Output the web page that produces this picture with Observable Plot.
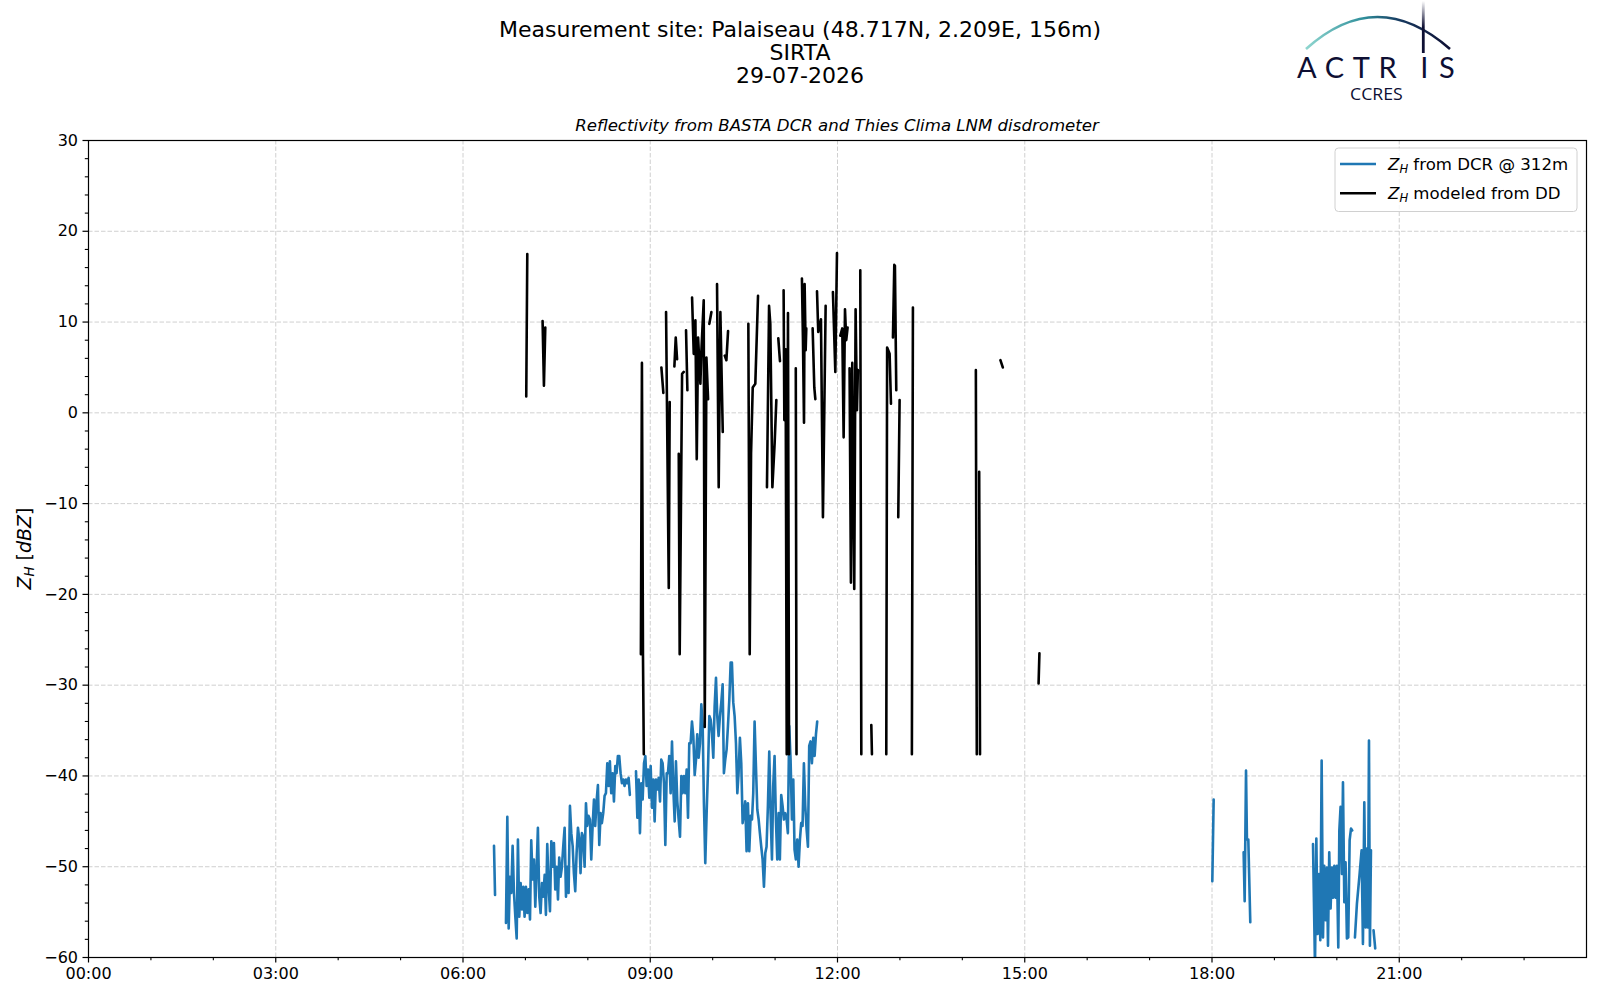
<!DOCTYPE html>
<html>
<head>
<meta charset="utf-8">
<script src="https://cdn.jsdelivr.net/npm/d3@7"></script>
<script src="https://cdn.jsdelivr.net/npm/@observablehq/plot@0.6"></script>
<style>
html,body{margin:0;padding:0;background:#fff;overflow:hidden}
#page{position:relative;width:1600px;height:1000px;font-family:"DejaVu Sans",sans-serif;color:#000}
#header{position:relative;height:136px}
.title{position:absolute;left:0;width:1600px;top:17.5px;text-align:center;font-size:22px;line-height:23px}
.subtitle{position:absolute;left:88px;width:1498px;top:116px;text-align:center;font-size:16.6px;line-height:20px;font-style:italic}
#logo{position:absolute;left:1280px;top:0}
#legend{position:absolute;left:1334px;top:147px}
#chart svg{display:block}
</style>
</head>
<body>
<div id="page">
  <div id="header">
    <div class="title">Measurement site: Palaiseau (48.717N, 2.209E, 156m)<br>SIRTA<br>29-07-2026</div>
    <div class="subtitle">Reflectivity from BASTA DCR and Thies Clima LNM disdrometer</div>
    <svg id="logo" width="200" height="110" viewBox="1280 0 200 110">
      <defs>
        <linearGradient id="arcGrad" gradientUnits="userSpaceOnUse" x1="1306" y1="0" x2="1450" y2="0">
          <stop offset="0" stop-color="#8fd6cf"/>
          <stop offset="0.4" stop-color="#2f8f9b"/>
          <stop offset="0.65" stop-color="#173a60"/>
          <stop offset="1" stop-color="#0e0f33"/>
        </linearGradient>
        <linearGradient id="vGrad" gradientUnits="userSpaceOnUse" x1="0" y1="1" x2="0" y2="53">
          <stop offset="0" stop-color="#0e0f33" stop-opacity="0"/>
          <stop offset="0.5" stop-color="#0e0f33" stop-opacity="1"/>
          <stop offset="1" stop-color="#0e0f33" stop-opacity="1"/>
        </linearGradient>
      </defs>
      <path d="M1306,49 Q1377,-15 1450,49" fill="none" stroke="url(#arcGrad)" stroke-width="2.6"/>
      <line x1="1423.3" y1="1" x2="1423.3" y2="53" stroke="url(#vGrad)" stroke-width="2.8"/>
      <text x="1297" y="77.8" dx="0 0 0 0 15 2" font-family="Lato" font-size="29" fill="#0e0f33" letter-spacing="8.6">ACTRIS</text>
      <text x="1350" y="100" font-family="Open Sans" font-size="17" fill="#0e0f33" textLength="52.7" lengthAdjust="spacingAndGlyphs">CCRES</text>
    </svg>
  </div>
  <div id="chart"></div>
  <svg id="legend" width="246" height="68">
    <rect x="1" y="1" width="242" height="63.5" rx="3.5" fill="#fff" fill-opacity="0.8" stroke="#d0d0d0" stroke-width="1"/>
    <line x1="6" x2="42" y1="17" y2="17" stroke="#1f77b4" stroke-width="2.6"/>
    <line x1="6" x2="42" y1="46.3" y2="46.3" stroke="#000" stroke-width="2.6"/>
    <g font-family="DejaVu Sans" font-size="16.6" fill="#000">
      <text x="54" y="23"><tspan font-style="italic">Z</tspan><tspan font-style="italic" font-size="11.6" dy="3">H</tspan><tspan dy="-3"> from DCR @ 312m</tspan></text>
      <text x="54" y="52.3"><tspan font-style="italic">Z</tspan><tspan font-style="italic" font-size="11.6" dy="3">H</tspan><tspan dy="-3"> modeled from DD</tspan></text>
    </g>
  </svg>
</div>
<script>
// ---- Data (time in minutes since 00:00 UTC, reflectivity in dBZ; null = no data) ----
const dcrTime = [
389.8, 390.8, 395,
401.3, 402.6, 403.9, 405.1, 406.4, 407.7, 409.0, 410.3, 411.6, 412.8,
414.1, 415.4, 416.7, 418.0, 419.2, 420.5, 421.8, 423.1, 424.4, 425.6,
426.9, 428.2, 429.5, 430.8, 432.0, 433.3, 434.6, 435.9, 437.2, 438.5,
439.7, 441.0, 442.3, 443.6, 444.9, 446.1, 447.4, 448.7, 450.0, 451.3,
452.5, 453.8, 455.1, 456.4, 457.7, 459.0, 460.2, 461.5, 462.8, 464.1,
465.4, 466.6, 467.9, 469.2, 470.5, 471.8, 473.0, 474.3, 475.6, 476.9,
478.2, 479.4, 480.7, 482.0, 483.3, 484.6, 485.9, 487.1, 488.4, 489.7,
491.0, 492.3, 493.5, 494.8, 496.1, 497.4, 498.7, 500.0, 501.2, 502.5,
503.8, 505.1, 506.4, 507.6, 508.9, 510.2, 511.5, 512.8, 514.1, 515.3,
516.6, 517.9, 519.2, 520.4,
523,
526.3, 527.6, 528.9, 530.1, 531.4, 532.7, 534.0, 535.3, 536.5, 537.8,
539.1, 540.4, 541.7, 543.0, 544.2, 545.5, 546.8, 548.1, 549.4, 550.6,
551.9, 553.2, 554.5, 555.8, 557.0, 558.3, 559.6, 560.9, 562.2, 563.5,
564.7, 566.0, 567.3, 568.6, 569.9, 571.1, 572.4, 573.7, 575.0, 576.3,
577.5, 578.8, 580.1, 581.4, 582.7, 584.0, 585.2, 586.5, 587.8, 589.1,
590.4, 591.6, 592.9, 594.2, 595.5, 596.8, 598.1, 599.3, 600.6, 601.9,
603.2, 604.4, 605.7, 607.0, 608.3, 609.6, 610.8, 612.1, 613.4, 614.7,
616.0, 617.3, 618.5, 619.8, 621.1, 622.4, 623.7, 624.9, 626.2, 627.5,
628.8, 630.1, 631.3, 632.6, 633.9, 635.2, 636.5, 637.8, 639.0, 640.3,
641.6, 642.9, 644.2, 645.4, 646.7, 648.0, 649.3, 650.6, 651.8, 653.1,
654.4, 655.7, 657.0, 658.2, 659.5, 660.8, 662.1, 663.4, 664.6, 665.9,
667.2, 668.5, 669.8, 671.1, 672.3, 673.6, 674.9, 676.2, 677.5, 678.7,
680.0, 681.3, 682.6, 683.9, 685.1, 686.4, 687.7, 689.0, 690.3, 691.6,
692.8, 694.1, 695.4, 696.7, 698.0, 699.3, 700.5,
720,
1080.3, 1081.6,
1095,
1110.4, 1111.4, 1112.7, 1113.6, 1114.9, 1116.8,
1140,
1177.1, 1179.0, 1180.3, 1181.5, 1182.8, 1184.1, 1185.4, 1186.7, 1187.9, 1189.2,
1190.5, 1191.5, 1192.7, 1194.0, 1195.3, 1196.3, 1197.6, 1198.8, 1200.1, 1201.4,
1202.4, 1203.6, 1204.9, 1205.9, 1207.2, 1208.4, 1209.7, 1211.0, 1212.3, 1213.6, 1214.8,
1216,
1217.4, 1219.3, 1221.9, 1223.8, 1225.1, 1226.4, 1227.7, 1228.9, 1229.9, 1230.9, 1231.8, 1232.8,
1234,
1235.3, 1236.9
];
const dcrZ = [
-47.7, -53.1, null,
-56.2, -44.5, -56.8, -51.1, -52.9, -47.7, -52.9, -55.5, -57.9, -47.0,
-55.5, -51.8, -54.7, -52.2, -55.5, -52.2, -55.1, -52.5, -55.8, -47.1,
-51.4, -49.2, -54.4, -50.1, -45.7, -53.3, -55.1, -51.8, -53.3, -50.9,
-55.3, -47.5, -52.2, -54.9, -47.2, -50.0, -47.4, -52.5, -50.0, -53.6,
-49.0, -51.1, -50.0, -47.7, -45.7, -53.3, -50.0, -52.9, -43.3, -46.3,
-47.7, -50.7, -52.7, -48.5, -45.7, -47.0, -50.7, -46.3, -46.7, -50.0,
-43.0, -45.5, -44.4, -44.8, -49.2, -45.5, -42.6, -45.5, -42.8, -41.0,
-47.6, -44.1, -45.2, -44.1, -42.2, -41.9, -38.6, -41.1, -38.4, -41.9,
-39.7, -42.8, -38.9, -39.7, -37.8, -37.8, -39.7, -40.8, -40.4, -41.1,
-40.4, -40.8, -40.2, -42.1,
null,
-39.5, -44.6, -40.4, -46.3, -40.8, -42.6, -38.6, -37.8, -41.1, -39.3,
-42.4, -38.9, -43.5, -40.4, -45.0, -40.4, -41.5, -40.2, -42.8, -38.2,
-38.6, -40.8, -47.6, -39.7, -39.7, -37.8, -41.9, -36.2, -41.5, -45.0,
-38.4, -42.8, -44.8, -46.7, -40.0, -41.9, -40.0, -41.9, -39.3, -44.6,
-36.4, -36.4, -34.0, -35.6, -39.9, -38.2, -35.4, -38.0, -36.4, -32.1,
-34.5, -43.0, -49.6, -44.1, -39.3, -33.4, -33.8, -35.3, -38.0, -32.3,
-29.2, -33.4, -35.6, -33.4, -31.9, -29.9, -39.7, -38.2, -37.1, -34.5,
-31.6, -27.5, -27.5, -31.9, -33.4, -36.4, -41.9, -39.7, -35.8, -38.6,
-45.2, -44.1, -42.8, -48.3, -43.0, -48.3, -44.4, -44.8, -41.9, -34.0,
-38.9, -43.7, -44.8, -46.3, -47.8, -49.2, -52.2, -48.5, -47.8, -43.3,
-37.3, -44.1, -49.2, -41.1, -37.8, -44.8, -49.2, -44.1, -49.2, -42.1,
-43.3, -44.8, -44.1, -44.8, -46.3, -34.5, -38.2, -44.8, -40.4, -48.1,
-49.2, -47.0, -50.0, -47.0, -45.2, -45.5, -38.6, -43.3, -45.9, -47.8,
-36.7, -36.2, -38.6, -35.8, -37.8, -35.4, -34.0,
null,
-51.6, -42.6,
null,
-48.4, -53.8, -39.4, -47.0, -47.0, -56.1,
null,
-47.5, -61.0, -46.9, -57.4, -50.8, -58.1, -38.3, -57.8, -49.9, -55.9,
-50.1, -58.7, -48.4, -54.6, -50.1, -53.4, -49.9, -53.4, -49.9, -58.9,
-46.0, -43.4, -50.8, -40.7, -53.9, -49.5, -57.9, -57.8, -47.1, -45.8, -46.0,
null,
-57.8, -54.1, -50.8, -48.2, -58.5, -42.9, -56.7, -48.0, -56.7, -36.1, -58.7, -48.2,
null,
-57.0, -59.0
];

const ddTime = [
420.8, 421.8, 425,
436.5, 437.8, 439.1, 480,
531.0, 532.0, 533.0, 533.8, 540,
550.7, 552.6, 553.5,
555.2, 557.8, 558.7, 561,
563.2, 564.5, 565.8, 566.5,
567.4, 568.3, 570.6, 572.2, 573,
574.4, 575.7, 577,
580.2, 581.8, 583.4, 584.7, 586.0, 588.2, 589.2, 591.4, 592.4, 594.0, 595.6, 596.2,
596.8, 598.8, 601,
604.2, 605.8, 607.4, 609.7, 610.5,
611.6, 613.2, 614.8, 620,
634.3, 635.6, 636.9, 638.5, 641.0, 643.6, 648,
652.2, 654.2, 655.4, 657.4, 659.6, 661.2, 662,
663.1, 664.7, 666,
668.2, 668.9, 670.1, 671.2, 672.4, 673.4, 676,
679.9, 680.6, 683,
685.8, 686.8, 687.8, 688.4, 689.4, 690.0, 693,
696.1, 697.7, 698.7, 699.5,
700.3, 701.5, 704.1, 706.0, 708.6, 712,
715.6, 717.9, 719.5, 721,
722.7, 724.6, 725.9, 727.2, 728.4, 729.7, 730.6,
731.6, 732.9, 734.2, 736.1, 737.4, 738.7, 739.6, 740.8,
741.9, 742.9, 748,
752.5, 753.1, 760,
766.9, 767.7, 770.1, 771.4, 772.3,
773.3, 774.6, 775.2, 776.5, 777.4,
778.4, 779.7, 785,
791.5, 792.5, 820,
853.0, 853.9, 855,
856.2, 857.0, 866,
876.6, 878.9, 900,
913.3, 914.1
];
const ddZ = [
1.8, 17.5, null,
10.1, 3.0, 9.4, null,
-26.6, 5.5, -26.6, -37.6, null,
5.0, 2.2, null,
11.1, -19.3, 1.2, null,
5.1, 8.3, 5.9, null,
-4.5, -26.6, 4.3, 4.5, null,
9.1, 2.5, null,
12.7, 6.5, 10.2, -5.1, 8.3, 3.2, 6.9, 12.4, -34.6, 6.1, 1.5, null,
9.8, 11.1, null,
14.2, -8.2, 11.1, -2.1, null,
6.3, 5.8, 9.0, null,
9.8, -26.6, -4.5, 2.8, 3.2, 12.9, null,
-8.2, 11.8, 9.8, -8.2, -3.3, 1.4, null,
8.2, 5.7, null,
13.5, -0.8, 7.0, -37.6, 11.0, -37.6, null,
4.9, -37.6, null,
14.8, 8.0, -1.1, 14.2, 6.9, 9.3, null,
9.3, 2.8, 1.5, null,
13.4, 8.9, 10.3, -11.5, 11.8, null,
13.3, 4.5, 17.6, null,
8.5, 9.3, -2.7, 11.4, 8.0, 9.4, null,
4.9, -18.7, 5.5, -19.4, 11.4, 0.3, 4.7, null,
15.7, -37.6, null,
-34.4, -37.6, null,
-37.6, 7.2, 6.5, 1.0, null,
8.3, 16.3, 16.2, 2.5, null,
-11.5, 1.4, null,
-37.6, 11.6, null,
4.7, -37.6, null,
-6.5, -37.6, null,
5.8, 5.0, null,
-29.8, -26.5
];

// ---- Axis ticks ----
const xTicks = [0, 180, 360, 540, 720, 900, 1080, 1260];
const xTickLabels = ["00:00", "03:00", "06:00", "09:00", "12:00", "15:00", "18:00", "21:00"];
const xMinorTicks = [60, 120, 240, 300, 420, 480, 600, 660, 780, 840, 960, 1020, 1140, 1200, 1320, 1380];
const yTicks = [-60, -50, -40, -30, -20, -10, 0, 10, 20, 30];
const yMinorTicks = [-58, -56, -54, -52, -48, -46, -44, -42, -38, -36, -34, -32, -28, -26, -24, -22,
  -18, -16, -14, -12, -8, -6, -4, -2, 2, 4, 6, 8, 12, 14, 16, 18, 22, 24, 26, 28];

const dcr = dcrTime.map((t, i) => ({t, z: dcrZ[i]}));
const dd = ddTime.map((t, i) => ({t, z: ddZ[i]}));

const gridStyle = {stroke: "#b0b0b0", strokeOpacity: 0.6, strokeWidth: 1, strokeDasharray: "4.5,2"};
const fmtY = d => d < 0 ? "\u2212" + Math.abs(d) : String(d);

const chart = Plot.plot({
  width: 1600,
  height: 864,
  marginTop: 4,
  marginBottom: 43,
  marginLeft: 88,
  marginRight: 14,
  style: {fontFamily: "DejaVu Sans", fontSize: "16px", background: "#fff", color: "#000", overflow: "visible"},
  x: {type: "linear", domain: [0, 1440], label: null},
  y: {domain: [-60, 30], label: null},
  marks: [
    Plot.gridX({ticks: xTicks, ...gridStyle}),
    Plot.gridY({ticks: yTicks, ...gridStyle}),
    Plot.line(dcr, {x: "t", y: "z", stroke: "#1f77b4", strokeWidth: 2.6, clip: true}),
    Plot.line(dd, {x: "t", y: "z", stroke: "#000", strokeWidth: 2.6, clip: true}),
    Plot.frame({stroke: "#000", strokeWidth: 1.2}),
    Plot.axisX({ticks: xTicks, tickSize: 5.5, tickPadding: 5, strokeWidth: 1.2, fontSize: 16, label: null,
      tickFormat: d => xTickLabels[xTicks.indexOf(d)]}),
    Plot.axisX({ticks: xMinorTicks, tickSize: 3.2, strokeWidth: 1.1, label: null, tickFormat: () => ""}),
    Plot.axisY({ticks: yTicks, tickSize: 5.5, tickPadding: 5, strokeWidth: 1.2, fontSize: 16, label: null,
      tickFormat: fmtY}),
    Plot.axisY({ticks: yMinorTicks, tickSize: 3.2, strokeWidth: 1.1, label: null, tickFormat: () => ""})
  ]
});

document.getElementById("chart").appendChild(chart);

// Y axis label with subscript
const yl = d3.select(chart).append("text")
  .attr("transform", "translate(24,412.5) rotate(-90)")
  .attr("text-anchor", "middle")
  .attr("font-family", "DejaVu Sans")
  .attr("font-size", 19)
  .attr("fill", "#000")
  .attr("dy", "0.35em");
yl.append("tspan").attr("font-style", "italic").text("Z");
yl.append("tspan").attr("font-style", "italic").attr("font-size", 13.3).attr("dy", 3.5).text("H");
yl.append("tspan").attr("dy", -3.5).text(" [");
yl.append("tspan").attr("font-style", "italic").text("dBZ");
yl.append("tspan").text("]");
</script>
</body>
</html>
